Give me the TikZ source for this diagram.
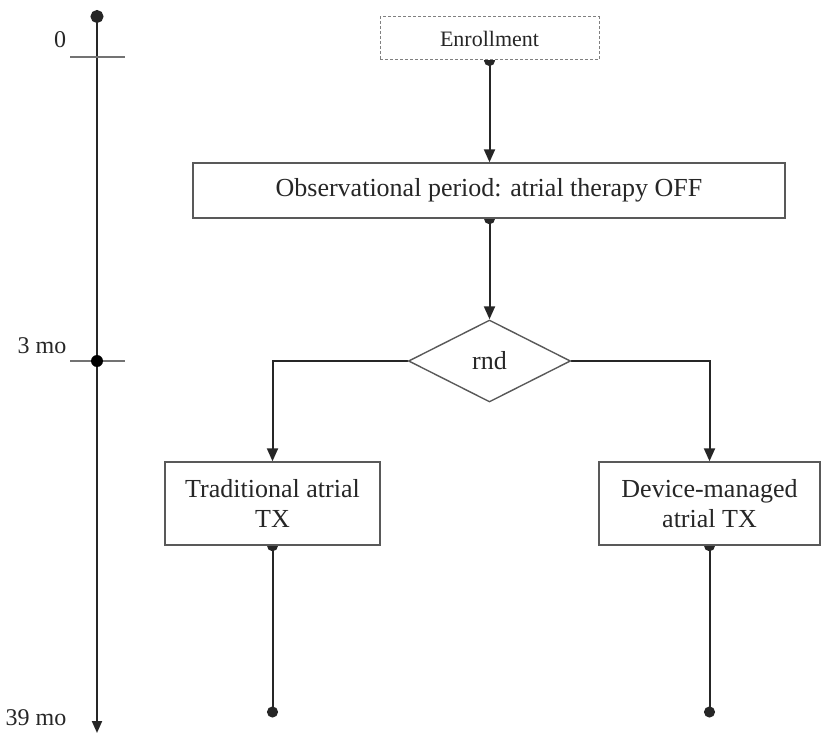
\documentclass[tikz,border=0pt]{standalone}
\usepackage{fontspec}
\setmainfont{Liberation Serif}
\usepackage{xcolor}
\usepackage{tikz}
\usetikzlibrary{shapes.geometric,arrows.meta}
\pgfdeclarelayer{back}
\pgfsetlayers{back,main}

\tikzset{
  stage/.style={draw=black!65, line width=1.4pt, fill=white, text=black!85,
    align=center, font=\fontsize{26}{30}\selectfont},
  flow/.style={draw=black!85, line width=2pt,
    {Circle[length=11pt]}-{Triangle[length=13pt,width=11pt]}, shorten <=-5.5pt},
  branch/.style={draw=black!85, line width=2pt, -{Triangle[length=13pt,width=11pt]}},
  tail/.style={draw=black!85, line width=2pt,
    {Circle[length=11pt]}-{Circle[length=11pt]}, shorten <=-5.5pt},
  tick/.style={draw=black!55, line width=1.6pt},
  mark label/.style={text=black!85, font=\fontsize{24}{28}\selectfont}
}

\begin{document}
\begin{tikzpicture}[x=1pt,y=-1pt]
                \tikzstyle{every node}+=[inner sep=0pt]
                \useasboundingbox (0,0) rectangle (825,733);
                % time axis
                \coordinate (axTop) at (97,10);
                \coordinate (axEnd) at (97,733);
                \draw [black!85, line width=2pt, {Circle[length=13pt]}-{Triangle[length=12pt,width=10pt]}] (axTop) -- (axEnd);
                \coordinate (t0a) at (70,57);
                \coordinate (t0b) at (125,57);
                \draw [tick] (t0a) -- (t0b);
                \coordinate (t3a) at (70,361);
                \coordinate (t3b) at (125,361);
                \draw [tick] (t3a) -- (t3b);
                \node [circle, fill=black, minimum size=12pt] (m3) at (97,361) {};
                \node [mark label] (lab0) at (60,40) {0};
                \node [mark label] (lab3) at (42,346) {3 mo};
                \node [mark label] (lab39) at (36,718) {39 mo};
                % flow
                \node [stage, draw=black!50, line width=1pt, densely dashed, minimum width=219pt, minimum height=43pt,
                  font=\fontsize{22}{26}\selectfont] (enrol) at (489.5,38.5) {Enrollment};
                \node [stage, minimum width=592pt, minimum height=55pt] (obs) at (489,190.5) {Observational period: atrial therapy OFF};
                \node [stage, diamond, minimum width=162pt, minimum height=82pt] (rnd) at (489.5,361) {rnd};
                \node [stage, minimum width=215pt, minimum height=83pt] (trad) at (272.5,503.5) {Traditional atrial\\TX};
                \node [stage, minimum width=221pt, minimum height=83pt] (dev) at (709.5,503.5) {Device-managed\\atrial TX};
                \coordinate (tradEnd) at (272.5,717.5);
                \coordinate (devEnd) at (709.5,717.5);
                \begin{pgfonlayer}{back}
                \draw [flow] (enrol.south) -- (obs.north -| enrol.south);
                \draw [flow] (obs.south -| rnd.north) -- (rnd.north);
                \draw [branch] (rnd.west) -| (trad.north);
                \draw [branch] (rnd.east) -| (dev.north);
                \draw [tail] (trad.south) -- (tradEnd);
                \draw [tail] (dev.south) -- (devEnd);
                \end{pgfonlayer}
            \end{tikzpicture}
\end{document}
